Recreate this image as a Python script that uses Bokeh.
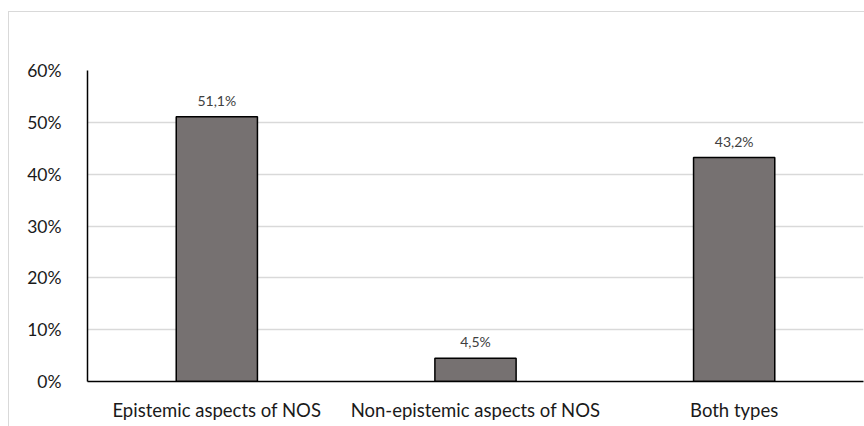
from bokeh.plotting import figure
from bokeh.models import ColumnDataSource, LabelSet, NumeralTickFormatter, FixedTicker, Range1d
from bokeh.core.properties import value
from bokeh.embed import file_html
from bokeh.resources import INLINE

categories = ["Epistemic aspects of NOS", "Non-epistemic aspects of NOS", "Both types"]
shares = [0.511, 0.045, 0.432]
y_ticks = [0.0, 0.1, 0.2, 0.3, 0.4, 0.5, 0.6]

labels = [f"{v * 100:.1f}".replace(".", ",") + "%" for v in shares]
source = ColumnDataSource(data=dict(cat=categories, share=shares, label=labels))

FONT = "Lato"

p = figure(
    x_range=categories,
    y_range=Range1d(0, 0.6),
    width=856,
    height=415,
    output_backend="svg",
    toolbar_location=None,
    min_border_left=78,
    min_border_right=2,
    min_border_top=58,
    min_border_bottom=46,
)
p.margin = (11, 0, 0, 8)
# chart border along the top and left edges
p.styles = {"border-top": "1.5px solid #d9d9d9", "border-left": "1.5px solid #d9d9d9",
            "box-sizing": "border-box"}
p.x_range.range_padding = 0

p.vbar(x="cat", top="share", width=0.314, source=source,
       fill_color="#767171", line_color="black", line_width=1.5)

p.add_layout(LabelSet(x="cat", y="share", text="label", source=source,
                      text_align="center", text_baseline="bottom", y_offset=8,
                      text_font=value(FONT), text_font_size="14px", text_color="#404040"))

p.outline_line_color = None
p.xgrid.grid_line_color = None
p.ygrid.grid_line_color = "#d9d9d9"
p.ygrid.grid_line_width = 1.5

p.yaxis.ticker = FixedTicker(ticks=y_ticks)
p.yaxis.formatter = NumeralTickFormatter(format="0%")
p.yaxis.major_tick_line_color = None
p.yaxis.minor_tick_line_color = None
p.yaxis.axis_line_color = "black"
p.yaxis.axis_line_width = 1.5
p.yaxis.major_label_standoff = 20
p.yaxis.major_label_text_font = FONT
p.yaxis.major_label_text_font_size = "17.5px"
p.yaxis.major_label_text_color = "#1a1a1a"

p.xaxis.major_tick_line_color = None
p.xaxis.minor_tick_line_color = None
p.xaxis.axis_line_color = "black"
p.xaxis.axis_line_width = 1.5
p.xaxis.major_label_standoff = 11
p.xaxis.major_label_text_font = FONT
p.xaxis.major_label_text_font_size = "18.5px"
p.xaxis.major_label_text_color = "#1a1a1a"

open("out.html", "w").write(file_html(p, INLINE))
